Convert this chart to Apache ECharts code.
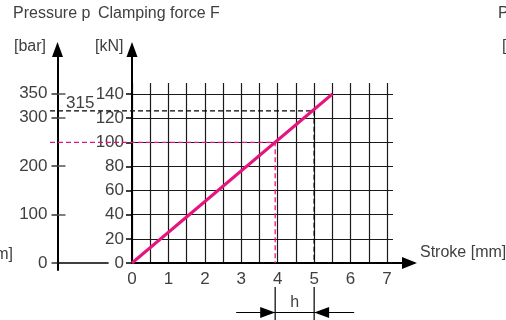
<!DOCTYPE html>
<html>
<head>
    <meta charset="utf-8">
    <title>Stroke / clamping force</title>
    <script src="https://cdn.jsdelivr.net/npm/echarts@6/dist/echarts.min.js"></script>
    <style>
        html, body { margin: 0; padding: 0; background: #fff; }
        #main { width: 506px; height: 320px; }
    </style>
</head>
<body>
<div id="main"></div>
<script type="text/javascript">
    // values
    var strokeTicks = [0, 1, 2, 3, 4, 5, 6, 7];             // mm
    var forceTicks = [0, 20, 40, 60, 80, 100, 120, 140];    // kN
    var pressureTicks = [0, 100, 200, 300, 350];            // bar
    var forceLine = [[0, 0], [5.5, 140]];                   // stroke mm -> force kN
    var readStart = -2.25;                                  // dashed lines start left of the kN axis
    var pinkRead = [3.93, 100];                             // stroke, force
    var blackRead = [5, 126];                               // stroke, force (= 315 bar)
    var blackPressure = 315;

    var txt = '#404040';
    var font = 'Liberation Sans';
    var pink = '#e5157d';
    var unitX = 36.43;   // px per mm

    var myChart = echarts.init(document.getElementById('main'));

    var noAxis = {show: false};

    myChart.setOption({
        animation: false,
        grid: [
            // 0: vertical grid lines + data
            {left: 132, top: 83, width: 7 * unitX, height: 180},
            // 1: horizontal grid lines + kN labels
            {left: 132, top: 94, width: 261, height: 169},
            // 2: arrow axes
            {left: 132, top: 49.5, width: 277.5, height: 213.5},
            // 3: bar axis
            {left: 57.5, top: 49.5, width: 50.5, height: 220.5},
            // 4: reading lines, same scale as grid 0 but reaching left to the bar axis
            {left: 132 + readStart * unitX, top: 83, width: (7 - readStart) * unitX, height: 180}
        ],
        xAxis: [
            {
                gridIndex: 0, type: 'value', min: 0, max: 7, interval: 0.5,
                axisLine: {show: false}, axisTick: {show: false},
                splitLine: {show: true, lineStyle: {color: '#1a1a1a', width: 1.2}},
                axisLabel: {
                    margin: 8, color: txt, fontFamily: font, fontSize: 17,
                    formatter: function (v) {
                        return strokeTicks.indexOf(v) >= 0 ? String(v) : '';
                    }
                }
            },
            {gridIndex: 1, type: 'value', min: 0, max: 7.165, show: false},
            {
                gridIndex: 2, type: 'value', min: 0, max: 1,
                axisLine: {show: true, symbol: ['none', 'triangle'], symbolSize: [12, 15],
                    lineStyle: {color: '#000', width: 2}},
                axisTick: noAxis, axisLabel: noAxis, splitLine: noAxis
            },
            {
                gridIndex: 3, type: 'value', min: 0, max: 1,
                axisLine: {show: true, onZero: true, lineStyle: {color: '#000', width: 1.6}},
                axisTick: noAxis, axisLabel: noAxis, splitLine: noAxis
            },
            {gridIndex: 4, type: 'value', min: readStart, max: 7, show: false}
        ],
        yAxis: [
            {gridIndex: 0, type: 'value', min: 0, max: 149.1, show: false},
            {
                gridIndex: 1, type: 'value', min: 0, max: 140, interval: 20,
                axisLine: {show: false},
                axisTick: {show: true, length: 6, lineStyle: {color: '#000', width: 1.5}},
                splitLine: {show: true, lineStyle: {color: '#1a1a1a', width: 1.2}},
                axisLabel: {margin: 8, color: txt, fontFamily: font, fontSize: 17}
            },
            {
                gridIndex: 2, type: 'value', min: 0, max: 1,
                axisLine: {show: true, symbol: ['none', 'triangle'], symbolSize: [11, 15],
                    lineStyle: {color: '#000', width: 2}},
                axisTick: noAxis, axisLabel: noAxis, splitLine: noAxis
            },
            {
                gridIndex: 3, type: 'value', min: -14.4, max: 440.3, position: 'left',
                axisLine: {show: true, symbol: ['none', 'triangle'], symbolSize: [11, 15],
                    lineStyle: {color: '#000', width: 2}},
                axisTick: {show: true, length: 6, customValues: pressureTicks,
                    lineStyle: {color: '#333', width: 1.5}},
                axisLabel: {margin: 10, color: txt, fontFamily: font, fontSize: 17,
                    customValues: pressureTicks},
                splitLine: noAxis
            },
            {
                gridIndex: 3, type: 'value', min: -14.4, max: 440.3, position: 'left',
                axisLine: {show: false},
                axisTick: {show: true, inside: true, length: 8, customValues: pressureTicks.slice(1),
                    lineStyle: {color: '#555', width: 1.5}},
                axisLabel: noAxis, splitLine: noAxis
            },
            {gridIndex: 4, type: 'value', min: 0, max: 149.1, show: false}
        ],
        series: [
            {
                type: 'line', xAxisIndex: 4, yAxisIndex: 5,
                data: [[readStart, blackRead[1]], blackRead, [blackRead[0], 0]],
                symbol: 'none', z: 3,
                lineStyle: {color: '#000', width: 1.3, type: [5, 3]}
            },
            {
                type: 'line', xAxisIndex: 4, yAxisIndex: 5,
                data: [[readStart, pinkRead[1]], pinkRead, [pinkRead[0], 0]],
                symbol: 'none', z: 3,
                lineStyle: {color: pink, width: 1.3, type: [5, 3]}
            },
            {
                type: 'line', xAxisIndex: 0, yAxisIndex: 0,
                data: forceLine, symbol: 'none', z: 4,
                lineStyle: {color: pink, width: 3}
            }
        ]
    });

    // annotations placed through the chart's own scales
    var px = function (p) {
        return myChart.convertToPixel({xAxisIndex: 4, yAxisIndex: 5}, p);
    };
    var dStart = px([readStart, blackRead[1]]);
    var xl = px([pinkRead[0], 0])[0];
    var xr = px([blackRead[0], 0])[0];
    var ay = 312.5;
    var lineSt = {stroke: '#000', lineWidth: 1.2};
    var textSt = function (t, x, y, align, size) {
        return {
            type: 'text', x: x, y: y,
            style: {text: t, fill: txt, font: (size || 16) + 'px "' + font + '"',
                textAlign: align || 'left', textVerticalAlign: 'middle'}
        };
    };

    myChart.setOption({
        graphic: [
            textSt('Pressure p', 13, 14),
            textSt('Clamping force F', 98, 14),
            textSt('[bar]', 14, 47),
            textSt('[kN]', 95, 47),
            textSt('Stroke [mm]', 420, 253),
            textSt('Stroke [mm]', 13, 255, 'right'),
            textSt('Pressure p', 498, 14),
            textSt('[bar]', 502, 47),
            textSt(String(blackPressure), dStart[0] + 16, dStart[1] - 8, 'left', 17),
            textSt('h', (xl + xr) / 2, ay - 10, 'center'),
            // extension lines
            {type: 'line', shape: {x1: xl, y1: 287, x2: xl, y2: 320}, style: lineSt},
            {type: 'line', shape: {x1: xr, y1: 287, x2: xr, y2: 320}, style: lineSt},
            // dimension lines
            {type: 'line', shape: {x1: xl - 39, y1: ay, x2: xl, y2: ay}, style: lineSt},
            {type: 'line', shape: {x1: xl, y1: ay, x2: xr, y2: ay}, style: lineSt},
            {type: 'line', shape: {x1: xr, y1: ay, x2: xr + 40, y2: ay}, style: lineSt},
            {type: 'polygon', shape: {points: [[xl, ay], [xl - 15, ay - 5.5], [xl - 15, ay + 5.5]]},
                style: {fill: '#000'}},
            {type: 'polygon', shape: {points: [[xr, ay], [xr + 15, ay - 5.5], [xr + 15, ay + 5.5]]},
                style: {fill: '#000'}}
        ]
    });
</script>
</body>
</html>
